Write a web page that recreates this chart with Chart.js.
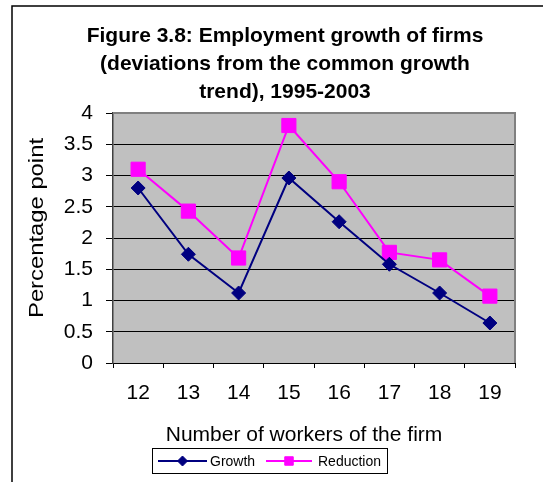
<!DOCTYPE html>
<html lang="en">
<head>
  <meta charset="UTF-8">
  <title>Employment growth of firms</title>
  <style>
    html, body {
      margin: 0;
      padding: 0;
      background: #ffffff;
    }
    #chartContainer {
      position: relative;
      width: 543px;
      height: 482px;
    }
  </style>
  <script src="https://cdn.jsdelivr.net/npm/chart.js"></script>
</head>
<body>

  <div id="chartContainer">
    <canvas id="chartCanvas" width="543" height="482"></canvas>
  </div>

  <script>
    // Chart data
    const firmSizes = ['12', '13', '14', '15', '16', '17', '18', '19'];
    const growthValues = [2.8, 1.74, 1.12, 2.96, 2.26, 1.58, 1.12, 0.64];
    const reductionValues = [3.1, 2.43, 1.68, 3.8, 2.9, 1.77, 1.65, 1.07];
    const yTickValues = [0, 0.5, 1, 1.5, 2, 2.5, 3, 3.5, 4];

    const titleLines = [
      'Figure 3.8: Employment growth of firms',
      '(deviations from the common growth',
      'trend), 1995-2003'
    ];
    const xTitle = 'Number of workers of the firm';
    const yTitle = 'Percentage point';

    const FONT = 'Arial, "Liberation Sans", sans-serif';

    // background, frame, grey plot area, titles and the boxed legend
    const framePlugin = {
      id: 'frame',
      beforeDraw(chart) {
        const ctx = chart.ctx;
        const a = chart.chartArea;
        ctx.save();
        ctx.fillStyle = '#ffffff';
        ctx.fillRect(0, 0, chart.width, chart.height);

        // outer frame (runs off the right and bottom edge)
        ctx.strokeStyle = '#000000';
        ctx.lineWidth = 1.5;
        ctx.beginPath();
        ctx.moveTo(12, chart.height + 2);
        ctx.lineTo(12, 6);
        ctx.lineTo(chart.width + 2, 6);
        ctx.stroke();

        ctx.fillStyle = '#c0c0c0';
        ctx.fillRect(a.left, a.top, a.right - a.left, a.bottom - a.top);
        ctx.restore();
      },
      beforeDatasetsDraw(chart) {
        const ctx = chart.ctx;
        const a = chart.chartArea;
        ctx.save();
        ctx.strokeStyle = '#808080';
        ctx.lineWidth = 2;
        ctx.beginPath();
        ctx.moveTo(a.left, a.top);
        ctx.lineTo(a.right, a.top);
        ctx.lineTo(a.right, a.bottom);
        ctx.stroke();
        ctx.restore();
      },
      afterDraw(chart) {
        const ctx = chart.ctx;
        ctx.save();
        ctx.fillStyle = '#000000';
        ctx.textAlign = 'center';
        ctx.textBaseline = 'middle';

        // main title
        ctx.font = 'bold 21px ' + FONT;
        titleLines.forEach((line, i) => {
          ctx.fillText(line, 285, 36 + i * 28);
        });

        // axis titles
        ctx.font = '21px ' + FONT;
        ctx.fillText(xTitle, 304, 435);

        // the vertical title is stretched a little along its length
        ctx.save();
        ctx.translate(37, 228);
        ctx.rotate(-Math.PI / 2);
        const stretch = 180 / ctx.measureText(yTitle).width;
        ctx.scale(stretch, 1);
        ctx.fillText(yTitle, 0, 0);
        ctx.restore();

        // legend box
        ctx.strokeStyle = '#000000';
        ctx.lineWidth = 1;
        ctx.strokeRect(152.5, 448.5, 235, 25);

        const ly = 461;
        const entries = [
          { ds: chart.data.datasets[0], x0: 158, x1: 207, tx: 210, r: 5 },
          { ds: chart.data.datasets[1], x0: 266, x1: 312, tx: 318, r: 6 }
        ];
        ctx.font = '14px ' + FONT;
        ctx.textAlign = 'left';
        entries.forEach(e => {
          ctx.strokeStyle = e.ds.borderColor;
          ctx.lineWidth = 2;
          ctx.beginPath();
          ctx.moveTo(e.x0, ly);
          ctx.lineTo(e.x1, ly);
          ctx.stroke();
          ctx.fillStyle = e.ds.pointBackgroundColor;
          ctx.strokeStyle = e.ds.pointBorderColor;
          ctx.lineWidth = 1;
          Chart.helpers.drawPoint(ctx, {
            pointStyle: e.ds.pointStyle,
            radius: e.r,
            rotation: 0,
            borderWidth: 1
          }, (e.x0 + e.x1) / 2, ly);
          ctx.fillStyle = '#000000';
          ctx.fillText(e.ds.label, e.tx, ly + 1);
        });
        ctx.restore();
      }
    };

    const ctx = document.getElementById('chartCanvas').getContext('2d');

    const chart = new Chart(ctx, {
      type: 'line',
      data: {
        labels: firmSizes,
        datasets: [{
          label: 'Growth',
          data: growthValues,
          borderColor: '#000080',
          borderWidth: 2,
          pointStyle: 'rectRot',
          pointRadius: 7,
          pointBackgroundColor: '#000080',
          pointBorderColor: '#000080',
          pointBorderWidth: 1,
          tension: 0
        }, {
          label: 'Reduction',
          data: reductionValues,
          borderColor: '#ff00ff',
          borderWidth: 2,
          pointStyle: 'rect',
          pointRadius: 10,
          pointBackgroundColor: '#ff00ff',
          pointBorderColor: '#ff00ff',
          pointBorderWidth: 1,
          tension: 0
        }]
      },
      plugins: [framePlugin],
      options: {
        responsive: false,
        animation: false,
        layout: {
          padding: { left: 0, top: 113, right: 28, bottom: 79 }
        },
        plugins: {
          legend: { display: false },
          title: { display: false },
          tooltip: { enabled: false }
        },
        scales: {
          x: {
            offset: true,
            afterFit(scale) { scale.height = 40; },
            grid: {
              offset: true,
              drawOnChartArea: false,
              tickLength: 5,
              tickColor: '#000000'
            },
            border: { color: '#000000', width: 1 },
            ticks: {
              color: '#000000',
              padding: 13,
              font: { family: FONT, size: 21 }
            }
          },
          y: {
            min: 0,
            max: 4,
            afterFit(scale) { scale.width = 113; },
            afterBuildTicks(scale) {
              scale.ticks = yTickValues.map(v => ({ value: v }));
            },
            grid: {
              color: c => (c.tick && c.tick.value === 4) ? 'rgba(0,0,0,0)' : '#000000',
              tickColor: '#000000',
              tickLength: 7
            },
            border: { color: '#404040', width: 1.5 },
            ticks: {
              color: '#000000',
              padding: 13,
              font: { family: FONT, size: 21 },
              callback: v => String(v)
            }
          }
        }
      }
    });
  </script>
</body>
</html>
